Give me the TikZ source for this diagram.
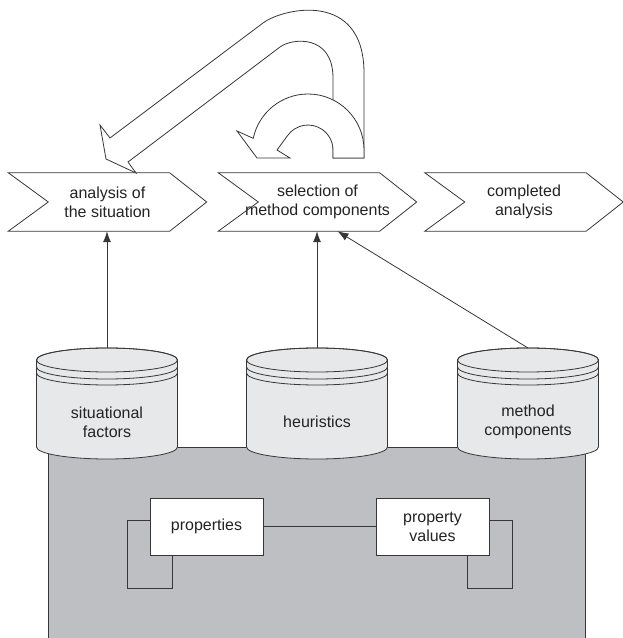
\documentclass[tikz,border=0pt]{standalone}
\usepackage{fontspec}
\setmainfont{Liberation Sans}
\usetikzlibrary{calc,arrows.meta}

\definecolor{boxgray}{RGB}{190,191,195}
\definecolor{dbgray}{RGB}{231,232,234}
\definecolor{linegray}{RGB}{55,55,55}
\definecolor{textgray}{RGB}{35,35,35}

\tikzset{
    thinline/.style={draw=linegray, line width=0.8pt},
    phase/.style={minimum width=198pt, minimum height=58pt, inner sep=0pt, align=center,
        text=textgray, font=\fontsize{16}{19}\selectfont},
    store/.style={minimum width=141pt, inner sep=0pt, align=center,
        text=textgray, font=\fontsize{16}{19}\selectfont},
    entity/.style={rectangle, thinline, fill=white, minimum width=113pt, minimum height=57pt,
        inner sep=0pt, align=center, text=textgray, font=\fontsize{16}{19}\selectfont},
    flow/.style={thinline, -{Latex[length=11pt,width=8pt]}},
    loopback/.style={thinline, fill=white, line join=miter}
}

\begin{document}
\begin{tikzpicture}[x=1pt,y=1pt]
    \useasboundingbox (0,0) rectangle (623,638);

    % repository
    \draw[thinline, fill=boxgray] (48,-5) rectangle (585,191);

    % phases
    \node[phase] (ana) at (107.5,436) {analysis of\\the situation};
    \node[phase] (sel) at (317.5,436) {selection of\\method components};
    \node[phase] (done) at (524,436) {completed\\analysis};
    \foreach \n in {ana,sel,done}
        \draw[thinline] (\n.north west) -- ([xshift=-37pt]\n.north east) -- (\n.east)
            -- ([xshift=-37pt]\n.south east) -- (\n.south west) -- ([xshift=40pt]\n.west) -- cycle;

    % method bases
    \foreach \n/\x/\txt in {sit/107/{situational\\factors}, heu/317/heuristics, mc/528/{method\\components}} {
        \coordinate (\n-top) at (\x,278);
        \coordinate (\n-bot) at (\x,191);
        \coordinate (\n-cap) at (\x,290);
        \filldraw[thinline, fill=dbgray] ($(\n-top)+(-70.5,0)$) -- ($(\n-bot)+(-70.5,0)$)
            arc[start angle=180, end angle=360, x radius=70.5pt, y radius=12pt]
            -- ($(\n-top)+(70.5,0)$)
            arc[start angle=0, end angle=180, x radius=70.5pt, y radius=12pt] -- cycle;
        \draw[thinline] (\n-top) ellipse [x radius=70.5pt, y radius=12pt];
        \foreach \d in {7,13}
            \draw[thinline] ($(\n-top)+(-70.5,-\d)$)
                arc[start angle=180, end angle=360, x radius=70.5pt, y radius=12pt];
        \node[store] (\n) at (\x,216) {\txt};
    }

    \draw[flow] (sit-cap) -- (sit-cap |- ana.south);
    \draw[flow] (heu-cap) -- (heu-cap |- sel.south);
    \draw[flow] (mc-cap) -- ([xshift=20pt]sel.south);

    % feedback arrows
    \draw[loopback] (364,480) -- (364,565) .. controls (364,648) and (283,630) .. (263,615)
        -- (110,500) -- (100,513) -- (106,479) -- (136,465) -- (128,476)
        -- (280,591) .. controls (292,600) and (333,604) .. (333,560) -- (333,480) -- cycle;
    \draw[loopback] (364,480) -- (364,488) arc[start angle=0, end angle=168, radius=56pt]
        -- (237,507) -- (257,480) -- (290,480) -- (277,488) -- (287.5,502.3)
        arc[start angle=145, end angle=0, radius=25pt] -- (333,480) -- cycle;

    % meta model
    \node[entity] (prop) at (206.5,111.5) {properties};
    \node[entity] (pval) at (432.5,111.5) {property\\values};
    \draw[thinline] (prop) -- (pval);
    \draw[thinline] ([yshift=6pt]prop.west) -| (127,50) -| ([xshift=23pt]prop.south west);
    \draw[thinline] ([yshift=6pt]pval.east) -| (512,50) -| ([xshift=-22pt]pval.south east);
\end{tikzpicture}
\end{document}
